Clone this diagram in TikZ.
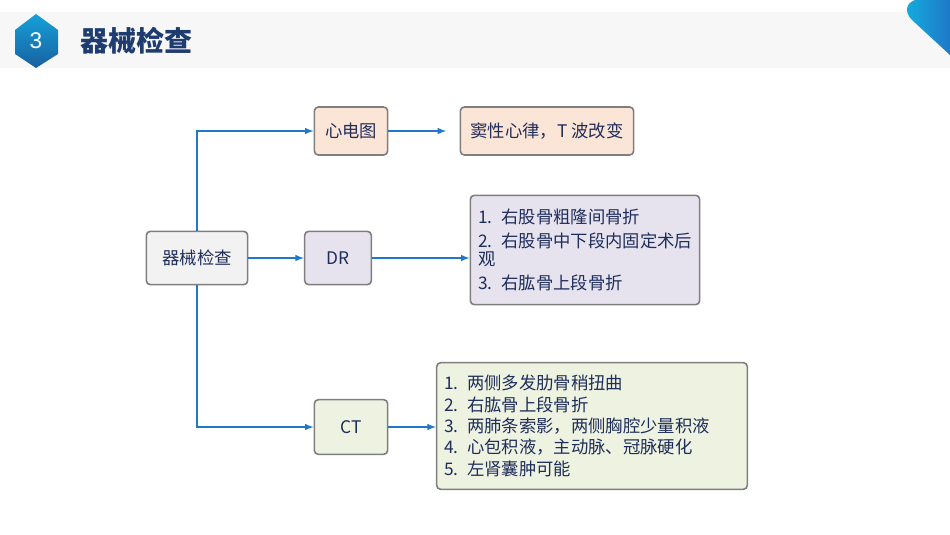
\documentclass[tikz,border=0pt]{standalone}
\usepackage{fontspec}
\setmainfont{Liberation Sans}
\newfontfamily\cjk{Noto Sans CJK SC}
\usetikzlibrary{shapes.geometric}
\definecolor{txtblue}{HTML}{1F2D5A}
\definecolor{lineblue}{HTML}{1F78C8}
\definecolor{boxgray}{HTML}{7F7F7F}
\definecolor{peach}{HTML}{FBE5D6}
\definecolor{lav}{HTML}{E6E3EE}
\definecolor{sage}{HTML}{EEF3E1}
\tikzset{
  box/.style={draw=boxgray, line width=1.2pt, rounded corners=3pt, text=txtblue, font=\cjk\fontsize{13}{15}\selectfont},
  link/.style={draw=lineblue, line width=1.2pt, -latex}
}
\begin{document}
\begin{tikzpicture}[x=0.75pt,y=-0.75pt]
  \useasboundingbox (0,0) rectangle (950,535);
  % header
  \fill[gray!6] (0,12) rectangle (950,68);
  \shade[top color=lineblue!70!cyan, bottom color=lineblue!80!black] (36,14) -- (58,30) -- (58,54) -- (36,68) -- (15,54) -- (15,30) -- cycle;
  \node[text=white, font=\fontsize{17}{17}\selectfont] (num) at (36,41) {3};
  \node[anchor=west, text=txtblue!80!lineblue, font=\cjk\bfseries\fontsize{21}{21}\selectfont] (title) at (76,41) {器械检查};
  \shade[left color=lineblue!60!cyan, right color=lineblue] (915,0) -- (950,0) -- (950,55) -- (912,20) .. controls (904,12) and (906,3) .. (915,0);
  % boxes
  \node[box, fill=gray!10, minimum width=76pt, minimum height=40pt] (main) at (197,258) {器械检查};
  \node[box, fill=peach, minimum width=55pt, minimum height=36pt] (ecg) at (351,131) {心电图};
  \node[box, fill=peach, minimum width=130pt, minimum height=36pt] (sinus) at (547,131) {窦性心律，T 波改变};
  \node[box, fill=lav, minimum width=50pt, minimum height=40pt] (dr) at (338,258) {DR};
  \node[box, fill=lav, minimum width=172pt, minimum height=82pt, text width=160pt, align=left, font=\cjk\fontsize{13}{13}\selectfont] (drlist) at (585,250)
    {1. 右股骨粗隆间骨折\\[5pt]\mbox{2. 右股骨中下段内固定术后}\\观\\[5pt]3. 右肱骨上段骨折};
  \node[box, fill=sage, minimum width=233pt, minimum height=95pt, text width=222pt, align=left, font=\cjk\fontsize{13}{16}\selectfont] (ctlist) at (592,426)
    {1. 两侧多发肋骨稍扭曲\\2. 右肱骨上段骨折\\3. 两肺条索影，两侧胸腔少量积液\\4. 心包积液，主动脉、冠脉硬化\\5. 左肾囊肿可能};
  \node[box, fill=sage, minimum width=55pt, minimum height=41pt] (ct) at (351,427) {CT};
  % connectors
  \draw[link] (main.north) |- (ecg.west);
  \draw[link] (main.south) |- (ct.west);
  \draw[link] (main.east) -- (dr.west);
  \draw[link] (ecg.east) -- ([xshift=-10pt]sinus.west);
  \draw[link] (dr.east) -- (drlist.west |- dr.east);
  \draw[link] (ct.east) -- (ctlist.west |- ct.east);
\end{tikzpicture}
\end{document}
